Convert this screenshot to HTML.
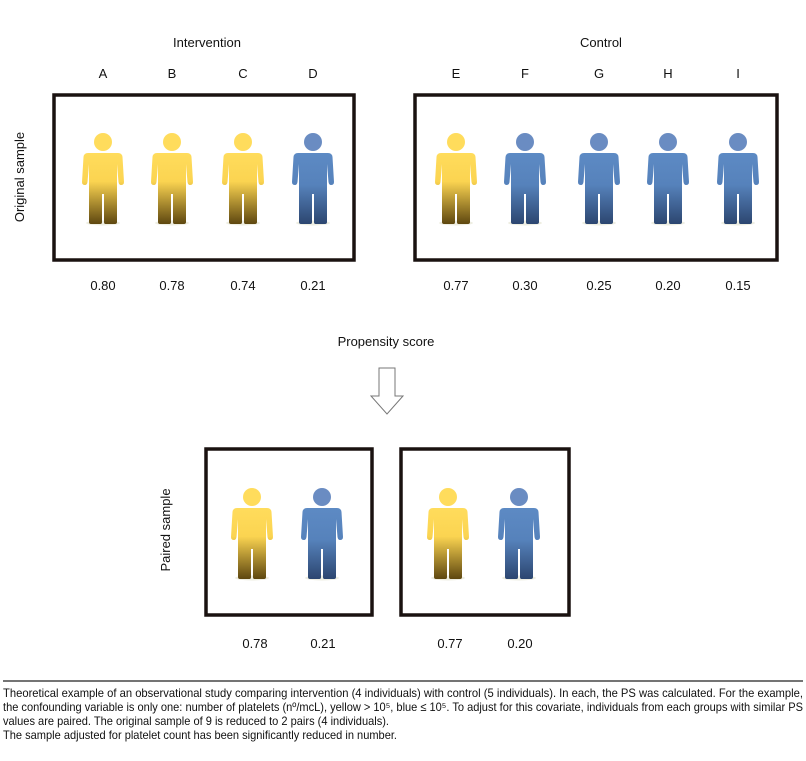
<!DOCTYPE html>
<html><head><meta charset="utf-8"><style>
body{margin:0;background:#fff;width:806px;height:756px;overflow:hidden}
svg text{font-family:"Liberation Sans",sans-serif;fill:#111}
</style></head><body>
<svg width="806" height="756" viewBox="0 0 806 756" xmlns="http://www.w3.org/2000/svg">
<defs>
<linearGradient id="gy" x1="0" y1="0" x2="0" y2="1"><stop offset="0" stop-color="#FFDC5C"/><stop offset="0.4" stop-color="#FBD451"/><stop offset="1" stop-color="#5e4710"/></linearGradient>
<linearGradient id="gb" x1="0" y1="0" x2="0" y2="1"><stop offset="0" stop-color="#5d8ac4"/><stop offset="0.45" stop-color="#5682bb"/><stop offset="1" stop-color="#2c4670"/></linearGradient>
<g id="body"><path d="M-15,11 H15 Q19,11 19.5,15 L21,40 Q21,43 18,43 Q16,43 15.5,40 L14,22 L14,80 Q14,82 12,82 H2.5 Q1,82 1,80 V52 H-1 V80 Q-1,82 -2.5,82 H-12 Q-14,82 -14,80 V22 L-15.5,40 Q-16,43 -18,43 Q-21,43 -21,40 L-19.5,15 Q-19,11 -15,11 Z"/></g>
<g id="Y"><ellipse cx="0" cy="81" rx="17" ry="2.5" fill="#eeeee2"/><circle cx="0" cy="0" r="9" fill="#FFDC5C"/><use href="#body" fill="url(#gy)"/></g>
<g id="B"><ellipse cx="0" cy="81" rx="17" ry="2.5" fill="#eeeee2"/><circle cx="0" cy="0" r="9" fill="#6a8cc2"/><use href="#body" fill="url(#gb)"/></g>
</defs>
<g font-size="13" text-anchor="middle">
<text x="207" y="47">Intervention</text>
<text x="601" y="47">Control</text>
<text x="103" y="78">A</text><text x="172" y="78">B</text><text x="243" y="78">C</text><text x="313" y="78">D</text>
<text x="456" y="78">E</text><text x="525" y="78">F</text><text x="599" y="78">G</text><text x="668" y="78">H</text><text x="738" y="78">I</text>
<text x="103" y="290">0.80</text><text x="172" y="290">0.78</text><text x="243" y="290">0.74</text><text x="313" y="290">0.21</text>
<text x="456" y="290">0.77</text><text x="525" y="290">0.30</text><text x="599" y="290">0.25</text><text x="668" y="290">0.20</text><text x="738" y="290">0.15</text>
<text x="386" y="346">Propensity score</text>
<text x="255" y="648">0.78</text><text x="323" y="648">0.21</text>
<text x="450" y="648">0.77</text><text x="520" y="648">0.20</text>
<text transform="translate(24,177) rotate(-90)">Original sample</text>
<text transform="translate(170,530) rotate(-90)">Paired sample</text>
</g>
<g fill="none" stroke="#1a1210" stroke-width="3.5">
<rect x="54" y="95" width="300" height="165"/>
<rect x="415" y="95" width="362" height="165"/>
<rect x="206" y="449" width="166" height="166"/>
<rect x="401" y="449" width="168" height="166"/>
</g>
<use href="#Y" x="103" y="142"/><use href="#Y" x="172" y="142"/><use href="#Y" x="243" y="142"/><use href="#B" x="313" y="142"/>
<use href="#Y" x="456" y="142"/><use href="#B" x="525" y="142"/><use href="#B" x="599" y="142"/><use href="#B" x="668" y="142"/><use href="#B" x="738" y="142"/>
<use href="#Y" x="252" y="497"/><use href="#B" x="322" y="497"/><use href="#Y" x="448" y="497"/><use href="#B" x="519" y="497"/>
<path d="M379,368 H395 V396 H403 L387,414 L371,396 H379 Z" fill="#fff" stroke="#777" stroke-width="1"/>
<line x1="3" y1="681" x2="803" y2="681" stroke="#222" stroke-width="1.2"/>
<g font-size="12">
<text x="3" y="697" textLength="800" lengthAdjust="spacingAndGlyphs">Theoretical example of an observational study comparing intervention (4 individuals) with control (5 individuals). In each, the PS was calculated. For the example,</text>
<text x="3" y="711" textLength="800" lengthAdjust="spacingAndGlyphs">the confounding variable is only one: number of platelets (nº/mcL), yellow &gt; 10⁵, blue ≤ 10⁵. To adjust for this covariate, individuals from each groups with similar PS</text>
<text x="3" y="725" textLength="386" lengthAdjust="spacingAndGlyphs">values are paired. The original sample of 9 is reduced to 2 pairs (4 individuals).</text>
<text x="3" y="739" textLength="394" lengthAdjust="spacingAndGlyphs">The sample adjusted for platelet count has been significantly reduced in number.</text>
</g>
</svg>
</body></html>
